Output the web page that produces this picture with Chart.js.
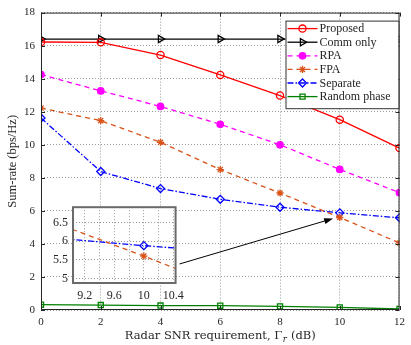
<!DOCTYPE html>
<html>
<head>
<meta charset="utf-8">
<script src="https://cdn.jsdelivr.net/npm/chart.js@4.4.1/dist/chart.umd.min.js"></script>
<style>
  html, body { margin: 0; padding: 0; background: #fff; }
  #wrap { position: relative; width: 411px; height: 345px; }
  #main { position: absolute; left: 0; top: 0; }
  #inset { position: absolute; left: 45px; top: 195px; }
</style>
</head>
<body>
<div id="wrap">
  <canvas id="main" width="411" height="345"></canvas>
  <canvas id="inset" width="145" height="110"></canvas>
</div>
<script>
// values
const snr = [0, 2, 4, 6, 8, 10, 12];
const proposed = [16.22, 16.2, 15.43, 14.23, 12.98, 11.52, 9.8];
const commOnly = [16.4, 16.4, 16.4, 16.4, 16.4, 16.4, 16.4];
const rpa = [14.25, 13.26, 12.32, 11.24, 10.0, 8.51, 7.1];
const fpa = [12.22, 11.46, 10.15, 8.5, 7.08, 5.6, 4.06];
const separate = [11.62, 8.38, 7.35, 6.7, 6.22, 5.88, 5.58];
const randomPhase = [0.32, 0.3, 0.27, 0.26, 0.22, 0.16, 0.06];

const yTicks = [0, 2, 4, 6, 8, 10, 12, 14, 16, 18];
const insetXTicks = [9.2, 9.4, 9.6, 9.8, 10, 10.2, 10.4];
const insetXLabels = [9.2, 9.6, 10, 10.4];
const insetYTicks = [5, 5.5, 6, 6.5];

const serif = "'Liberation Serif', 'Times New Roman', serif";
const cmLike = "'DejaVu Serif', serif";
const textColor = '#262626';

const pts = arr => snr.map((x, i) => ({ x, y: arr[i] }));

const series = [
  { label: 'Proposed', data: proposed, color: '#ff0000', dash: [], style: 'circle', r: 3.6, fill: 'rgba(0,0,0,0)', rot: 0 },
  { label: 'Comm only', data: commOnly, color: '#000000', dash: [], style: 'triangle', r: 4.2, fill: 'rgba(0,0,0,0)', rot: 90 },
  { label: 'RPA', data: rpa, color: '#ff00ff', dash: [5, 4], style: 'circle', r: 3.2, fill: '#ff00ff', rot: 0 },
  { label: 'FPA', data: fpa, color: '#d95319', dash: [5, 4], style: 'star', r: 3.6, fill: '#d95319', rot: 0 },
  { label: 'Separate', data: separate, color: '#0000ff', dash: [6, 2, 1.5, 2], style: 'rectRot', r: 4, fill: 'rgba(0,0,0,0)', rot: 0 },
  { label: 'Random phase', data: randomPhase, color: '#008000', dash: [], style: 'rect', r: 3.6, fill: 'rgba(0,0,0,0)', rot: 0 }
];

const toDataset = s => ({
  label: s.label,
  data: pts(s.data),
  borderColor: s.color,
  borderWidth: 1.3,
  borderDash: s.dash,
  pointStyle: s.style,
  pointRadius: s.r,
  pointRotation: s.rot,
  pointBorderWidth: 1.3,
  pointBorderColor: s.color,
  pointBackgroundColor: s.fill,
  tension: 0
});

// white plot area + frame for the inset
const insetFrame = {
  id: 'insetFrame',
  beforeDraw(chart) {
    const a = chart.chartArea, ctx = chart.ctx;
    ctx.save();
    ctx.fillStyle = '#fff';
    ctx.fillRect(a.left, a.top, a.right - a.left, a.bottom - a.top);
    ctx.restore();
  },
  afterDraw(chart) {
    const a = chart.chartArea, ctx = chart.ctx;
    ctx.save();
    ctx.strokeStyle = '#6a6a6a';
    ctx.lineWidth = 2;
    ctx.strokeRect(a.left, a.top, a.right - a.left, a.bottom - a.top);
    ctx.restore();
  }
};

const insetChart = new Chart(document.getElementById('inset'), {
  type: 'line',
  data: { datasets: [toDataset(series[3]), toDataset(series[4])] },
  options: {
    responsive: false,
    animation: false,
    layout: { padding: { top: 5, right: 6, left: 0, bottom: 0 } },
    plugins: { legend: { display: false }, tooltip: { enabled: false } },
    scales: {
      x: {
        type: 'linear', min: 9.04, max: 10.43,
        afterBuildTicks: s => { s.ticks = insetXTicks.map(v => ({ value: v })); },
        afterFit: s => { s.height = 22; },
        ticks: {
          autoSkip: false, maxRotation: 0, padding: 6, color: textColor,
          font: { family: serif, size: 12 },
          callback: v => insetXLabels.some(l => Math.abs(l - v) < 1e-6) ? String(v) : ''
        },
        grid: { color: '#9a9a9a', drawTicks: false },
        border: { display: false, dash: [1, 2] }
      },
      y: {
        type: 'linear', min: 4.88, max: 6.91,
        afterBuildTicks: s => { s.ticks = insetYTicks.map(v => ({ value: v })); },
        afterFit: s => { s.width = 28; },
        ticks: {
          autoSkip: false, padding: 5, color: textColor, font: { family: serif, size: 12 },
          callback: v => String(v)
        },
        grid: { color: '#9a9a9a', drawTicks: false },
        border: { display: false, dash: [1, 2] }
      }
    }
  },
  plugins: [insetFrame]
});

// axes box, inward ticks, legend, titles and the arrow to the inset
const decorations = {
  id: 'decorations',
  afterDatasetsDraw(chart) {
    const ctx = chart.ctx, a = chart.chartArea;
    const xs = chart.scales.x, ys = chart.scales.y;
    ctx.save();
    ctx.strokeStyle = textColor;
    ctx.lineWidth = 1;
    ctx.strokeRect(a.left + 0.5, a.top + 0.5, a.right - a.left - 1, a.bottom - a.top - 1);
    ctx.beginPath();
    snr.forEach(v => {
      const px = Math.round(xs.getPixelForValue(v)) + 0.5;
      ctx.moveTo(px, a.bottom); ctx.lineTo(px, a.bottom - 4);
      ctx.moveTo(px, a.top); ctx.lineTo(px, a.top + 4);
    });
    yTicks.forEach(v => {
      const py = Math.round(ys.getPixelForValue(v)) + 0.5;
      ctx.moveTo(a.left, py); ctx.lineTo(a.left + 4, py);
      ctx.moveTo(a.right, py); ctx.lineTo(a.right - 4, py);
    });
    ctx.stroke();

    // legend
    const w = 113, rowH = 13.6;
    const x0 = a.right - w - 1, y0 = a.top + 8;
    const h = rowH * series.length + 6;
    ctx.fillStyle = '#fff';
    ctx.fillRect(x0, y0, w, h);
    ctx.strokeStyle = '#333';
    ctx.strokeRect(x0 + 0.5, y0 + 0.5, w, h);
    ctx.font = '12px ' + serif;
    ctx.textBaseline = 'middle';
    chart.data.datasets.forEach((ds, i) => {
      const cy = y0 + 8 + i * rowH;
      ctx.strokeStyle = ds.borderColor;
      ctx.lineWidth = ds.borderWidth;
      ctx.setLineDash(ds.borderDash);
      ctx.beginPath();
      ctx.moveTo(x0 + 2, cy); ctx.lineTo(x0 + 32, cy);
      ctx.stroke();
      ctx.setLineDash([]);
      ctx.fillStyle = ds.pointBackgroundColor;
      Chart.helpers.drawPoint(ctx, {
        pointStyle: ds.pointStyle, rotation: ds.pointRotation,
        radius: ds.pointRadius, borderWidth: ds.pointBorderWidth
      }, x0 + 17, cy);
      ctx.fillStyle = textColor;
      ctx.fillText(ds.label, x0 + 34, cy + 0.5);
    });
    ctx.restore();
  },
  afterDraw(chart) {
    const ctx = chart.ctx, a = chart.chartArea;
    ctx.save();
    ctx.fillStyle = textColor;
    // y title
    ctx.font = '12.5px ' + serif;
    ctx.textAlign = 'center';
    ctx.textBaseline = 'middle';
    ctx.translate(13, (a.top + a.bottom) / 2);
    ctx.rotate(-Math.PI / 2);
    ctx.fillText('Sum-rate (bps/Hz)', 0, 0);
    ctx.setTransform(1, 0, 0, 1, 0, 0);
    // x title with italic subscript
    const main = 'Radar SNR requirement, \u0393', sub = 'r', tail = ' (dB)';
    const big = '11.5px ' + cmLike, small = 'italic 8.5px ' + cmLike;
    ctx.textAlign = 'left';
    ctx.textBaseline = 'alphabetic';
    ctx.font = big;
    const w1 = ctx.measureText(main).width, w3 = ctx.measureText(tail).width;
    ctx.font = small;
    const w2 = ctx.measureText(sub).width + 1;
    const x = (a.left + a.right) / 2 - (w1 + w2 + w3) / 2;
    const base = 339;
    ctx.font = big;
    ctx.fillText(main, x, base);
    ctx.font = small;
    ctx.fillText(sub, x + w1 + 0.5, base + 2.5);
    ctx.font = big;
    ctx.fillText(tail, x + w1 + w2, base);

    // arrow from inset to the crossing point
    const ic = document.getElementById('inset');
    const sx = ic.offsetLeft + insetChart.chartArea.right + 4;
    const sy = ic.offsetTop + insetChart.scales.y.getPixelForValue(5.39);
    const ex = chart.scales.x.getPixelForValue(9.78);
    const ey = chart.scales.y.getPixelForValue(5.54);
    const ang = Math.atan2(ey - sy, ex - sx);
    ctx.strokeStyle = '#000';
    ctx.fillStyle = '#000';
    ctx.lineWidth = 1;
    ctx.beginPath();
    ctx.moveTo(sx, sy);
    ctx.lineTo(ex - 8 * Math.cos(ang), ey - 8 * Math.sin(ang));
    ctx.stroke();
    ctx.beginPath();
    ctx.moveTo(ex, ey);
    ctx.lineTo(ex - 9 * Math.cos(ang) + 3 * Math.sin(ang), ey - 9 * Math.sin(ang) - 3 * Math.cos(ang));
    ctx.lineTo(ex - 9 * Math.cos(ang) - 3 * Math.sin(ang), ey - 9 * Math.sin(ang) + 3 * Math.cos(ang));
    ctx.closePath();
    ctx.fill();
    ctx.restore();
  }
};

const mainChart = new Chart(document.getElementById('main'), {
  type: 'line',
  data: { datasets: series.map(toDataset) },
  options: {
    responsive: false,
    animation: false,
    layout: { padding: { top: 9, right: 5, left: 0, bottom: 0 } },
    plugins: { legend: { display: false }, tooltip: { enabled: false } },
    scales: {
      x: {
        type: 'linear', min: 0, max: 12,
        afterFit: s => { s.height = 35; },
        ticks: { stepSize: 2, maxRotation: 0, padding: 6, color: textColor, font: { family: serif, size: 11 } },
        grid: { color: '#9a9a9a', drawTicks: false },
        border: { display: false, dash: [1, 2] }
      },
      y: {
        type: 'linear', min: 0, max: 18,
        afterFit: s => { s.width = 41; },
        ticks: { stepSize: 2, padding: 6, color: textColor, font: { family: serif, size: 11 } },
        grid: { color: '#9a9a9a', drawTicks: false },
        border: { display: false, dash: [1, 2] }
      }
    }
  },
  plugins: [decorations]
});
</script>
</body>
</html>
